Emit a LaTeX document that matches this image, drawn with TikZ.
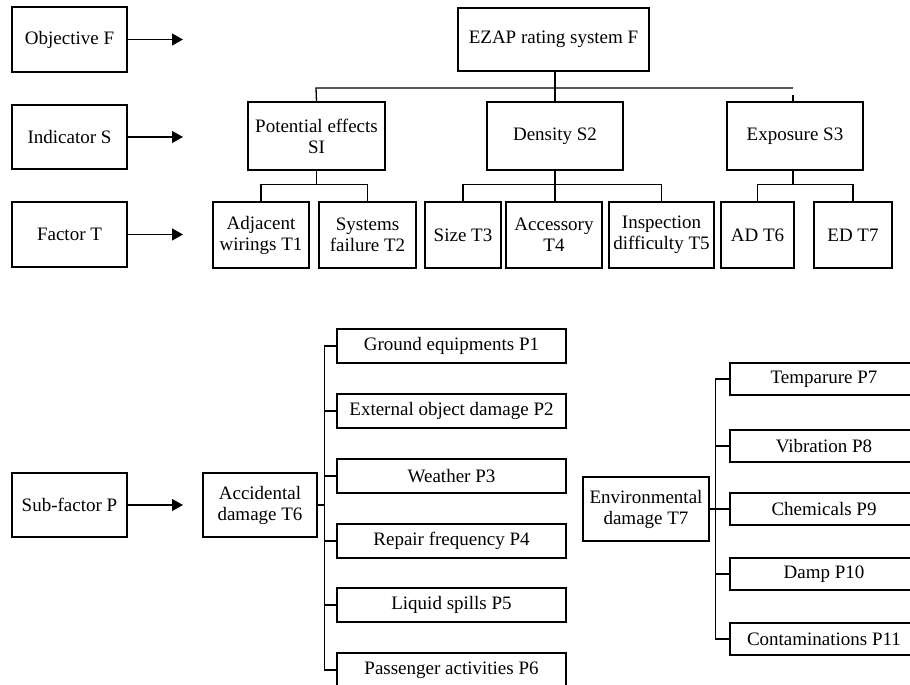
\documentclass[tikz,border=0pt]{standalone}
\usepackage{fontspec}
\setmainfont{Liberation Serif}
\usetikzlibrary{arrows.meta}
\tikzset{
  box/.style={draw, line width=1.3pt, align=center, inner sep=0pt, font=\fontsize{19}{21}\selectfont},
  link/.style={line width=1.3pt},
  lvlarrow/.style={line width=1.1pt, -{Triangle[length=11pt,width=12pt]}}
}
\begin{document}
\begin{tikzpicture}[x=1pt, y=-1pt]
\useasboundingbox (0,0) rectangle (910,685);
% level labels
\node[box, minimum width=115pt, minimum height=65pt] (objF) at (69.5,39.5) {Objective F};
\node[box, minimum width=115pt, minimum height=64pt] (indS) at (69.5,137) {Indicator S};
\node[box, minimum width=115pt, minimum height=65pt] (facT) at (69.5,234.5) {Factor T};
\node[box, minimum width=115pt, minimum height=64pt] (subP) at (69.5,505) {Sub-factor P};
\coordinate (aF) at (183,39.5);
\coordinate (aS) at (183,137);
\coordinate (aT) at (183,234.5);
\coordinate (aP) at (183,505);
\draw[lvlarrow] (objF.east) -- (aF);
\draw[lvlarrow] (indS.east) -- (aS);
\draw[lvlarrow] (facT.east) -- (aT);
\draw[lvlarrow] (subP.east) -- (aP);
% top tree
\node[box, minimum width=191pt, minimum height=63pt] (ezap) at (553.5,39.5) {EZAP rating system F};
\node[box, minimum width=137pt, minimum height=68pt] (s1) at (316.5,136) {Potential effects\\SI};
\node[box, minimum width=136pt, minimum height=68pt] (s2) at (555,136) {Density S2};
\node[box, minimum width=136pt, minimum height=68pt] (s3) at (795,136) {Exposure S3};
\node[box, minimum width=96pt, minimum height=66pt] (t1) at (261,235) {Adjacent\\wirings T1};
\node[box, minimum width=97pt, minimum height=66pt] (t2) at (367.5,235) {Systems\\failure T2};
\node[box, minimum width=76pt, minimum height=66pt] (t3) at (463,235) {Size T3};
\node[box, minimum width=96pt, minimum height=66pt] (t4) at (554,235) {Accessory\\T4};
\node[box, minimum width=105pt, minimum height=66pt] (t5) at (661.5,235) {Inspection\\difficulty T5};
\node[box, minimum width=73pt, minimum height=66pt] (t6) at (757.5,235) {AD T6};
\node[box, minimum width=78pt, minimum height=66pt] (t7) at (853,235) {ED T7};
\coordinate (busF) at (316,88);
\coordinate (busFend) at (793,88);
\coordinate (stubS3) at (793,95);
\draw[link] (ezap.south -| s2.north) -- (s2.north);
\draw[link] (s1.north) -- (busF) -- (busFend);
\draw[link] (stubS3) -- (stubS3 |- s3.north);
\draw[link] (s1.south) -- ++(0,14) coordinate (j1);
\draw[link] (t1.north) |- (j1) -| (t2.north);
\draw[link] (s2.south) -- ++(0,14) coordinate (j2);
\draw[link] (t3.north) |- (j2) -| (t5.north);
\draw[link] (j2) -- (j2 |- t4.north);
\draw[link] (s3.south -| stubS3) -- ++(0,14) coordinate (j3);
\draw[link] (t6.north) |- (j3) -| (t7.north);
% accidental damage
\node[box, minimum width=114pt, minimum height=64pt] (acc) at (260,505) {Accidental\\damage T6};
\node[box, minimum width=229pt, minimum height=34pt] (p1) at (451.5,346) {Ground equipments P1};
\node[box, minimum width=229pt, minimum height=34pt] (p2) at (451.5,411) {External object damage P2};
\node[box, minimum width=229pt, minimum height=34pt] (p3) at (451.5,476) {Weather P3};
\node[box, minimum width=229pt, minimum height=34pt] (p4) at (451.5,541) {Repair frequency P4};
\node[box, minimum width=229pt, minimum height=34pt] (p5) at (451.5,605) {Liquid spills P5};
\node[box, minimum width=229pt, minimum height=34pt] (p6) at (451.5,670) {Passenger activities P6};
\draw[link] (p1.west) -- ++(-12,0) coordinate (b1) |- (p6.west);
\draw[link] (p2.west) -- (p2.west -| b1);
\draw[link] (p3.west) -- (p3.west -| b1);
\draw[link] (p4.west) -- (p4.west -| b1);
\draw[link] (p5.west) -- (p5.west -| b1);
\draw[link] (acc.east) -- (acc.east -| b1);
% environmental damage
\node[box, minimum width=126pt, minimum height=64pt] (env) at (646,509) {Environmental\\damage T7};
\node[box, minimum width=188pt, minimum height=32pt] (q7) at (824,379) {Temparure P7};
\node[box, minimum width=188pt, minimum height=32pt] (q8) at (824,446) {Vibration P8};
\node[box, minimum width=188pt, minimum height=32pt] (q9) at (824,509) {Chemicals P9};
\node[box, minimum width=188pt, minimum height=32pt] (q10) at (824,574) {Damp P10};
\node[box, minimum width=188pt, minimum height=32pt] (q11) at (824,639) {Contaminations P11};
\draw[link] (q7.west) -- ++(-14,0) coordinate (b2) |- (q11.west);
\draw[link] (q8.west) -- (q8.west -| b2);
\draw[link] (q9.west) -- (q9.west -| b2);
\draw[link] (q10.west) -- (q10.west -| b2);
\draw[link] (env.east) -- (env.east -| b2);
\end{tikzpicture}
\end{document}
